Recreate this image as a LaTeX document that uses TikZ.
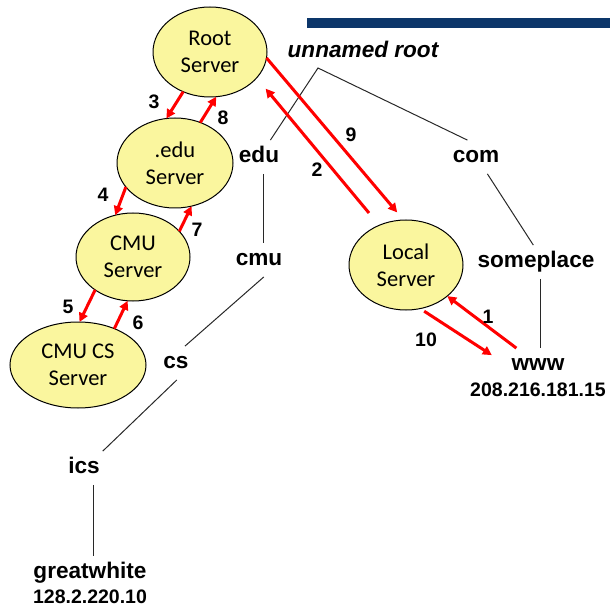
\documentclass[tikz,border=0pt]{standalone}
\usepackage{fontspec}
\setmainfont{Liberation Sans}
\newfontfamily\calibri{Carlito}
\usetikzlibrary{shapes.geometric,arrows.meta}
\definecolor{srvfill}{RGB}{250,246,158}
\definecolor{navybar}{RGB}{12,54,106}
\definecolor{treeline}{RGB}{40,40,40}
\tikzset{
 server/.style={ellipse, draw=black, line width=0.5pt, fill=srvfill, inner sep=0pt, outer sep=0pt, align=center, font=\calibri\fontsize{11.25}{13.5}\selectfont},
 lbl/.style={font=\bfseries\fontsize{11.3}{13}\selectfont, inner sep=3pt, text height=8pt, text depth=2.5pt},
 ipaddr/.style={font=\bfseries\fontsize{9.75}{11}\selectfont, inner sep=0pt},
 num/.style={font=\bfseries\fontsize{9.75}{11}\selectfont, inner sep=0pt},
 req/.style={draw=red, line width=1.5pt, -{Triangle[length=4.5pt,width=4.5pt]}},
 tree/.style={draw=treeline, line width=0.5pt},
}
\begin{document}
\begin{tikzpicture}[x=0.5pt,y=-0.5pt]
\useasboundingbox (0,0) rectangle (610,609);
\fill[navybar] (307,18) rectangle (610,28);
% servers
\node[server, minimum width=57pt, minimum height=45pt] (root) at (210,52) {Root\\Server};
\node[server, minimum width=58pt, minimum height=45pt] (edus) at (175,163) {.edu\\Server};
\node[server, minimum width=57pt, minimum height=44pt] (cmus) at (133,257) {CMU\\Server};
\node[server, minimum width=68pt, minimum height=43pt] (cmucs) at (78,365) {CMU CS\\Server};
\node[server, minimum width=57pt, minimum height=45pt] (local) at (406,265) {Local\\Server};
% tree labels
\node[lbl, font=\bfseries\itshape\fontsize{11.3}{13}\selectfont] (unnamed) at (363,52) {unnamed root};
\coordinate (apex) at (318,68);
\node[lbl] (edu) at (259,157) {edu};
\node[lbl] (com) at (476,157) {com};
\node[lbl] (cmu) at (259,260) {cmu};
\node[lbl] (someplace) at (536,262) {someplace};
\node[lbl] (cs) at (176,363) {cs};
\node[lbl] (www) at (538,365) {www};
\node[ipaddr] (wwwip) at (538,390) {208.216.181.15};
\node[lbl] (ics) at (84,468) {ics};
\node[lbl] (gw) at (90,573) {greatwhite};
\node[ipaddr] (gwip) at (90,597) {128.2.220.10};
% tree lines
\draw[tree] (edu.56) -- (apex) -- (com.117);
\draw[tree] ([xshift=2pt]edu.south) -- ([xshift=2pt]edu.south |- cmu.north);
\draw[tree] (cmu.286) -- (cs.62);
\draw[tree] (cs.273) -- (ics.42);
\draw[tree] ([xshift=4.5pt]ics.south) -- ([xshift=4.5pt]ics.south |- gw.north);
\draw[tree] (com.304) -- (someplace.99);
\draw[tree] ([xshift=2pt]someplace.south) -- ([xshift=2pt]someplace.south |- www.north);
% request arrows
\draw[req] (www.142) -- (local.323);
\draw[req, shorten <=8pt, shorten >=7pt] (local.124) -- (root.331);
\draw[req] (root.236) -- (edus.101);
\draw[req] (edus.206) -- (cmus.113);
\draw[req] (cmus.221) -- (cmucs.88);
\draw[req] (cmucs.45) -- (cmus.263);
\draw[req] (cmus.29) -- (edus.291);
\draw[req] (edus.58) -- (root.278);
\draw[req, shorten >=5pt] (root.354) -- (local.93);
\draw[req, shorten <=2.4pt, shorten >=8pt] (local.288) -- (www.178);
% numbers
\node[num] (n1) at (488,317) {1};
\node[num] (n2) at (317,170) {2};
\node[num] (n3) at (154,102) {3};
\node[num] (n4) at (103,195) {4};
\node[num] (n5) at (68,307) {5};
\node[num] (n6) at (138,323) {6};
\node[num] (n7) at (197,230) {7};
\node[num] (n8) at (223,118) {8};
\node[num] (n9) at (351,135) {9};
\node[num] (n10) at (426,340) {10};
\end{tikzpicture}
\end{document}
